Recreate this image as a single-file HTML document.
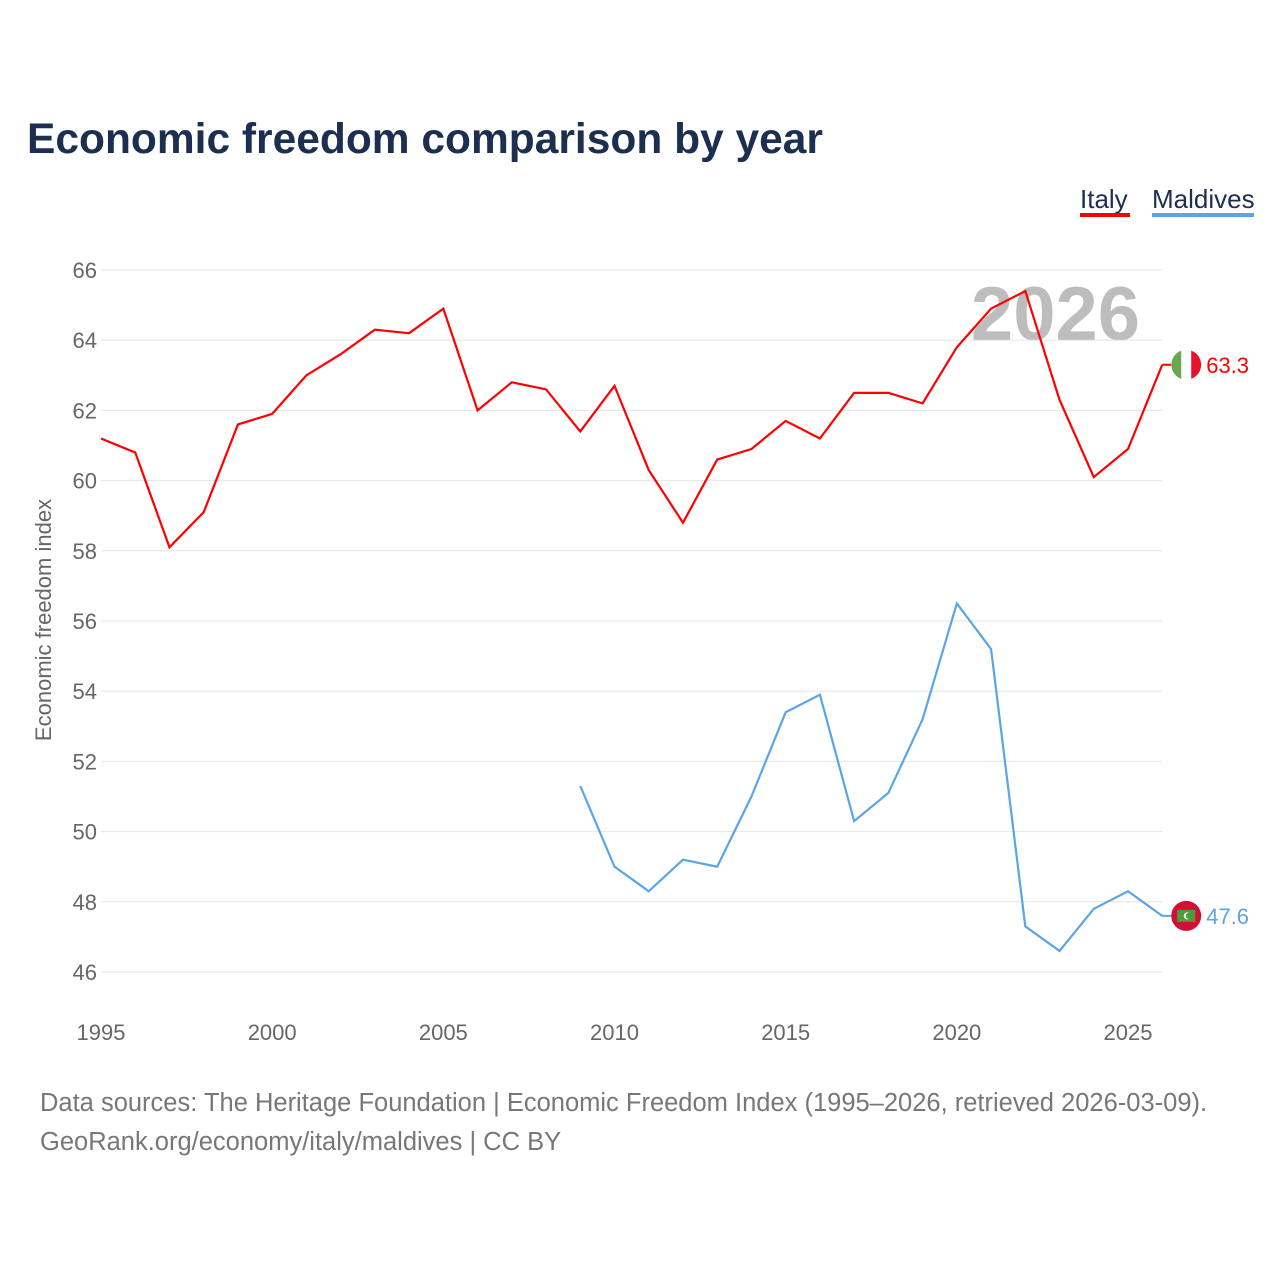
<!DOCTYPE html>
<html><head><meta charset="utf-8">
<style>
body{margin:0;background:#fff;font-family:"Liberation Sans",sans-serif;}
#wrap{position:relative;width:1280px;height:1280px;overflow:hidden;}
</style></head>
<body>
<div id="wrap">
<svg id="chart" width="1280" height="1280">
<text x="27" y="153" font-size="42.5" font-weight="bold" fill="#1c2f50">Economic freedom comparison by year</text>
<g><text x="1080" y="208" font-size="26" fill="#1c2f50">Italy</text><rect x="1080" y="213" width="50" height="4" fill="#ff0000"/></g>
<g><text x="1152" y="208" font-size="26" fill="#1c2f50">Maldives</text><rect x="1152" y="213" width="102" height="4" fill="#5ba4e8"/></g>
<text x="1140" y="340" font-size="76" font-weight="bold" fill="#bdbdbd" text-anchor="end">2026</text>
<text transform="translate(51,620) rotate(-90)" font-size="22" fill="#666" text-anchor="middle">Economic freedom index</text>
<g id="grid"></g><g id="lines"></g>
<text x="40" y="1111" font-size="25.5" fill="#777">Data sources: The Heritage Foundation | Economic Freedom Index (1995–2026, retrieved 2026-03-09).</text>
<text x="40" y="1150" font-size="25.5" fill="#777">GeoRank.org/economy/italy/maldives | CC BY</text>
</svg>
</div>
<script>
const yTicks=[46,48,50,52,54,56,58,60,62,64,66];
const xTicks=[1995,2000,2005,2010,2015,2020,2025];
const italyYears=[1995,1996,1997,1998,1999,2000,2001,2002,2003,2004,2005,2006,2007,2008,2009,2010,2011,2012,2013,2014,2015,2016,2017,2018,2019,2020,2021,2022,2023,2024,2025,2026];
const italyValues=[61.2,60.8,58.1,59.1,61.6,61.9,63.0,63.6,64.3,64.2,64.9,62.0,62.8,62.6,61.4,62.7,60.3,58.8,60.6,60.9,61.7,61.2,62.5,62.5,62.2,63.8,64.9,65.4,62.3,60.1,60.9,63.3];
const maldivesYears=[2009,2010,2011,2012,2013,2014,2015,2016,2017,2018,2019,2020,2021,2022,2023,2024,2025,2026];
const maldivesValues=[51.3,49.0,48.3,49.2,49.0,51.0,53.4,53.9,50.3,51.1,53.2,56.5,55.2,47.3,46.6,47.8,48.3,47.6];
const NS="http://www.w3.org/2000/svg";
const X=y=>101+(y-1995)*(1027/30);
const Y=v=>270+(66-v)*35.1;
const grid=document.getElementById('grid'),lines=document.getElementById('lines');
function mk(t,a,p){const e=document.createElementNS(NS,t);for(const k in a)e.setAttribute(k,a[k]);p.appendChild(e);return e;}
yTicks.forEach(v=>{
 const l=mk('line',{x1:101,x2:1162,y1:Y(v),y2:Y(v),stroke:'#e6e6e6','stroke-width':1},grid);
 
 
 const t=mk('text',{x:97,y:Y(v)+8,'font-size':22,fill:'#666','text-anchor':'end'},grid);t.textContent=v;
 
 
});
xTicks.forEach(v=>{
 const t=mk('text',{x:X(v),y:1040,'font-size':22,fill:'#666','text-anchor':'middle'},grid);t.textContent=v;
 
 
});
function series(years,vals,color,name){
 const d=years.map((y,i)=>(i?'L':'M')+X(y)+','+Y(vals[i])).join(' ');
 const p=mk('path',{d:d,fill:'none',stroke:color,'stroke-width':2.2},lines);
 
 
 const ly=years[years.length-1],lv=vals[vals.length-1];
 const cx=X(ly)+24,cy=Y(lv);
 mk('line',{x1:X(ly),x2:cx,y1:cy,y2:cy,stroke:color,'stroke-width':2},lines);
 const c=mk('circle',{cx:cx,cy:cy,r:15,fill:name==='italy'?'#fff':'#d21034'},lines);
 
 
 if(name==='italy'){mk('path',{d:`M${cx-5},${cy-14.1} A15,15 0 0 0 ${cx-5},${cy+14.1} Z`,fill:'#6aa84f'},lines);mk('path',{d:`M${cx+5},${cy-14.1} A15,15 0 0 1 ${cx+5},${cy+14.1} Z`,fill:'#e8112d'},lines);}
 else{mk('rect',{x:cx-9,y:cy-6,width:18,height:12,fill:'#4f9a3a'},lines);mk('circle',{cx:cx+1,cy:cy,r:3.5,fill:'#fff'},lines);mk('circle',{cx:cx+2.5,cy:cy,r:3,fill:'#4f9a3a'},lines);}
 const t=mk('text',{x:cx+20,y:cy+8,'font-size':22,fill:color},lines);t.textContent=lv.toFixed(1);
 
 
}
series(italyYears,italyValues,'#ff0000','italy');
series(maldivesYears,maldivesValues,'#5ba4e8','maldives');
</script>
</body></html>
